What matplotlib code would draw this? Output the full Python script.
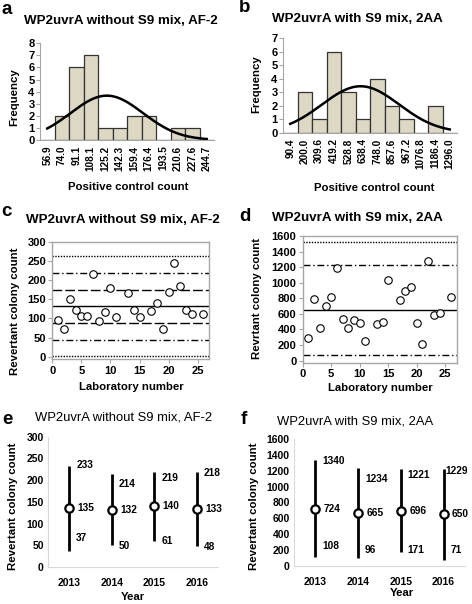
import numpy as np
import matplotlib
matplotlib.use("Agg")
import matplotlib.pyplot as plt

plt.rcParams["font.family"] = ["Liberation Sans", "DejaVu Sans"]
plt.rcParams["font.weight"] = "bold"

# ── data ──
# a: histogram of AF-2 positive control counts (without S9)
hist_a_bins = ["56.9", "74.0", "91.1", "108.1", "125.2", "142.3", "159.4",
               "176.4", "193.5", "210.6", "227.6", "244.7"]
hist_a_freq = [0, 2, 6, 7, 1, 1, 2, 2, 0, 1, 1, 0]
fit_a_mean, fit_a_sd = 127.0, 42.7

# b: histogram of 2AA positive control counts (with S9)
hist_b_bins = ["90.4", "200.0", "309.6", "419.2", "528.8", "638.4", "748.0",
               "857.6", "967.2", "1076.8", "1186.4", "1296.0"]
hist_b_freq = [0, 3, 1, 6, 3, 1, 4, 2, 1, 0, 2, 0]
fit_b_mean, fit_b_sd = 622.0, 292.0

# c / d: revertant colony count per laboratory
labs = [1, 2, 3, 4, 5, 6, 7, 8, 9, 10, 11, 13, 14, 15, 17, 18, 19, 20, 21, 22, 23, 24, 26]
counts_c = [97, 71, 150, 122, 105, 105, 216, 94, 117, 179, 103, 167, 122, 103,
            120, 139, 73, 170, 244, 184, 123, 112, 112]
mean_c, sd_c = 131.5, 43.5
counts_d = [295, 796, 423, 706, 813, 1193, 535, 419, 526, 488, 248, 470, 496, 1039,
            783, 890, 950, 488, 210, 1283, 590, 612, 813]
mean_d, sd_d = 656.0, 289.0

# e / f: yearly mean and range
years = ["2013", "2014", "2015", "2016"]
e_mean = [135, 132, 140, 133]
e_min = [37, 50, 61, 48]
e_max = [233, 214, 219, 218]
f_mean = [724, 665, 696, 650]
f_min = [108, 96, 171, 71]
f_max = [1340, 1234, 1221, 1229]

W, H = 472, 604
fig = plt.figure(figsize=(W / 100, H / 100), dpi=100, facecolor="white")


def box(l, t, r, b):
    return [l / W, 1 - b / H, (r - l) / W, (b - t) / H]


def ftext(x, y, s, **kw):
    fig.text(x / W, 1 - y / H, s, **kw)


GREY = "#a6a6a6"
BAR = "#dcd8c4"
DASH = (0, (7, 2.2))
DASHDOT = (0, (5, 2, 1, 2))
DOT = (0, (1, 1))


def hist_panel(rect, bins, freq, mean, sd, ymax):
    ax = fig.add_axes(rect)
    n = len(bins)
    idx = np.arange(n)
    ax.bar(idx, freq, width=1.0, color=BAR, edgecolor="#333333", linewidth=0.9)
    lo, hi = float(bins[0]), float(bins[-1])
    binw = (hi - lo) / (n - 1)
    xs = np.linspace(lo, hi, 200)
    total = sum(freq)
    ys = total * binw / (sd * np.sqrt(2 * np.pi)) * np.exp(-(xs - mean) ** 2 / (2 * sd ** 2))
    ax.plot((xs - lo) / binw, ys, color="black", linewidth=1.8)
    ax.set_xlim(-0.5, n - 0.5)
    ax.set_ylim(0, ymax)
    ax.set_yticks(range(ymax + 1))
    ax.set_xticks(idx)
    ax.set_xticklabels(bins, rotation=90, fontsize=7.2, fontweight="bold")
    ax.tick_params(axis="x", length=0, pad=4)
    ax.tick_params(axis="y", labelsize=8, length=3, color=GREY, pad=1)
    for s in ["top", "right"]:
        ax.spines[s].set_visible(False)
    for s in ["left", "bottom"]:
        ax.spines[s].set_color(GREY)
    return ax


def lab_panel(rect, counts, lines, ylim, ystep):
    ax = fig.add_axes(rect)
    for y, ls in lines:
        ax.axhline(y, color="black", linestyle=ls, linewidth=1.0)
    ax.plot(labs, counts, "o", markersize=5.4, markerfacecolor="white",
            markeredgecolor="black", markeredgewidth=0.8)
    ax.set_xlim(0, 27)
    ax.set_ylim(*ylim)
    ax.set_xticks(range(0, 26, 5))
    ax.set_yticks(range(0, int(ylim[1]) + 1, ystep))
    ax.tick_params(labelsize=8, length=3, color=GREY, pad=1.5)
    for s in ax.spines.values():
        s.set_color(GREY)
        s.set_linewidth(1.0)
    return ax


def year_panel(rect, mean, mn, mx, ylim, ystep, max_lab_y, min_lab_y, max_dx):
    ax = fig.add_axes(rect)
    idx = np.arange(len(years))
    ax.vlines(idx, mn, mx, color="black", linewidth=2.0)
    ax.plot(idx, mean, "o", markersize=6, markerfacecolor="white",
            markeredgecolor="black", markeredgewidth=1.6, zorder=3)
    lab = dict(textcoords="offset points", va="center", ha="left", fontsize=7.3,
               fontweight="bold")
    for i in idx:
        ax.annotate(str(mx[i]), (i, max_lab_y[i]), xytext=(max_dx[i], 0), **lab)
        ax.annotate(str(mean[i]), (i, mean[i]), xytext=(6, 0), **lab)
        ax.annotate(str(mn[i]), (i, min_lab_y[i]), xytext=(5, 0), **lab)
    ax.set_xlim(-0.5, len(years) - 0.5)
    ax.set_ylim(*ylim)
    ax.set_xticks(idx)
    ax.set_xticklabels(years)
    ax.set_yticks(range(0, int(ylim[1]) + 1, ystep))
    ax.tick_params(labelsize=7.5, length=0, pad=3)
    ax.tick_params(axis="x", pad=8)
    for s in ["top", "right"]:
        ax.spines[s].set_visible(False)
    for s in ["left", "bottom"]:
        ax.spines[s].set_color("#d9d9d9")
    return ax


# ── a / b: histograms ──
hist_panel(box(40, 43.3, 214, 140), hist_a_bins, hist_a_freq, fit_a_mean, fit_a_sd, 8)
hist_panel(box(283, 38.3, 457, 132.7), hist_b_bins, hist_b_freq, fit_b_mean, fit_b_sd, 7)

# ── c / d: laboratory scatter with mean +/- SD lines ──
lines_c = [(mean_c, "-"),
           (mean_c + sd_c, DASH), (mean_c - sd_c, DASH),
           (mean_c + 2 * sd_c, DASHDOT), (mean_c - 2 * sd_c, DASHDOT),
           (mean_c + 3 * sd_c, DOT), (mean_c - 3 * sd_c, DOT)]
lab_panel(box(52.3, 241.7, 209.3, 359.4), counts_c, lines_c, (-7, 300), 50)

lines_d = [(mean_d, "-"),
           (mean_d + 2 * sd_d, DASHDOT), (mean_d - 2 * sd_d, DASHDOT),
           (mean_d + 3 * sd_d, DOT)]
lab_panel(box(302.7, 236, 456.7, 362.6), counts_d, lines_d, (-25, 1600), 200)

# ── e / f: yearly ranges ──
year_panel(box(48, 436.7, 218, 567), e_mean, e_min, e_max, (0, 300), 50,
           [235, 192, 204, 217], [67, 48, 61, 46], [5, 5, 5, 5])
year_panel(box(294, 439.3, 465, 565.7), f_mean, f_min, f_max, (0, 1600), 200,
           [1325, 1097, 1148, 1203], [253, 198, 198, 198], [5, 5, 5, 1.5])

# ── titles, axis labels, panel letters ──
ttl = dict(ha="center", va="center", fontsize=9.6, fontweight="bold")
ftext(121, 21.5, "WP2uvrA without S9 mix, AF-2", **ttl)
ftext(357.5, 19.5, "WP2uvrA with S9 mix, 2AA", **ttl)
ftext(122.5, 220, "WP2uvrA without S9 mix, AF-2", **ttl)
ftext(357, 218, "WP2uvrA with S9 mix, 2AA", **ttl)
ftext(124, 418, "WP2uvrA without S9 mix, AF-2", ha="center", va="center", fontsize=9.4,
      fontweight="normal")
ftext(355, 421.5, "WP2uvrA with S9 mix, 2AA", ha="center", va="center", fontsize=9.4,
      fontweight="normal")

lbl = dict(ha="center", va="center", fontsize=8.2, fontweight="bold")
ftext(14, 97, "Frequency", rotation=90, **lbl)
ftext(256.5, 84, "Frequency", rotation=90, **lbl)
ftext(15, 311.5, "Revertant colony count", rotation=90, **lbl)
ftext(257.5, 298, "Revrtant colony count", rotation=90, **lbl)
ftext(13.5, 506.5, "Revertant colony count", rotation=90, **lbl)
ftext(254, 506.5, "Revertant colony count", rotation=90, **lbl)
ftext(128, 186.5, "Positive control count", **lbl)
ftext(374, 188, "Positive control count", **lbl)
ftext(131, 386.5, "Laboratory number", **lbl)
ftext(380, 388, "Laboratory number", **lbl)
ftext(132.5, 596.5, "Year", **lbl)
ftext(402, 593, "Year", **lbl)

let = dict(ha="left", va="center", fontsize=13.5, fontweight="bold")
ftext(1, 10, "a", **let)
ftext(238.5, 8, "b", **let)
ftext(1, 212, "c", **let)
ftext(239, 216.5, "d", **let)
ftext(2, 419, "e", **let)
ftext(240.5, 419, "f", **let)

fig.savefig("out.png", dpi=100, facecolor="white")
